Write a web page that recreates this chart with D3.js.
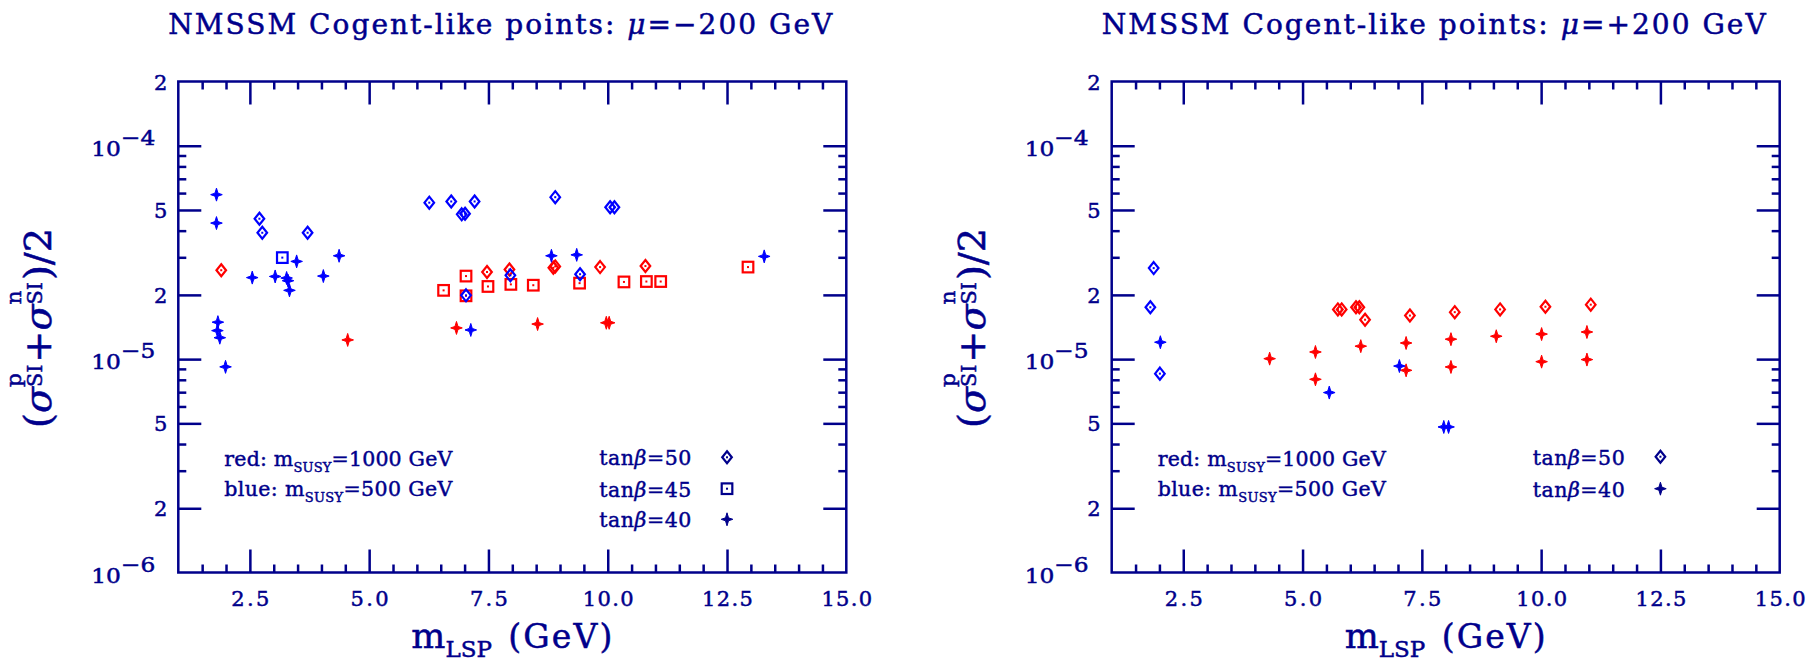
<!DOCTYPE html>
<html>
<head>
<meta charset="utf-8">
<script src="https://cdn.jsdelivr.net/npm/d3@7"></script>
<style>
  body { margin: 0; background: #fff; }
  svg { display: block; }
  text { font-family: "DejaVu Serif", "Liberation Serif", serif; fill: #00008b; }
</style>
</head>
<body>
<svg id="chart" width="1817" height="660"></svg>
<script>
// mu = -200 GeV panel, [m_LSP (GeV), (sigma_p + sigma_n)/2]
var negRedDiamond = [[1.90, 2.61e-5], [7.47, 2.56e-5], [7.94, 2.63e-5], [8.86, 2.68e-5], [8.90, 2.72e-5],
    [9.84, 2.70e-5], [10.79, 2.73e-5]];
var negRedSquare = [[6.56, 2.10e-5], [7.03, 2.45e-5], [7.03, 1.98e-5], [7.49, 2.19e-5], [7.97, 2.24e-5],
    [8.44, 2.22e-5], [9.41, 2.27e-5], [10.34, 2.30e-5], [10.81, 2.31e-5], [11.11, 2.31e-5], [12.94, 2.70e-5]];
var negRedPlus = [[4.55, 1.23e-5], [6.83, 1.40e-5], [8.53, 1.46e-5], [9.97, 1.48e-5], [10.03, 1.48e-5]];
var negBlueDiamond = [[2.70, 4.55e-5], [2.76, 3.91e-5], [3.71, 3.91e-5], [6.26, 5.41e-5], [6.72, 5.48e-5],
    [7.21, 5.48e-5], [6.94, 4.77e-5], [7.01, 4.80e-5], [8.90, 5.74e-5], [10.05, 5.15e-5], [10.14, 5.15e-5],
    [7.96, 2.47e-5], [9.42, 2.50e-5], [7.03, 1.99e-5]];
var negBlueSquare = [[3.18, 2.99e-5]];
var negBluePlus = [[1.80, 5.90e-5], [1.80, 4.34e-5], [3.48, 2.87e-5], [4.37, 3.05e-5], [2.55, 2.41e-5],
    [3.03, 2.44e-5], [3.27, 2.40e-5], [3.30, 2.33e-5], [3.33, 2.10e-5], [4.04, 2.45e-5], [8.82, 3.05e-5],
    [9.35, 3.08e-5], [13.28, 3.03e-5], [7.13, 1.37e-5], [1.83, 1.49e-5], [1.82, 1.36e-5], [1.87, 1.26e-5],
    [1.99, 9.2e-6]];

// mu = +200 GeV panel
var posRedDiamond = [[5.74, 1.71e-5], [5.82, 1.71e-5], [6.12, 1.75e-5], [6.19, 1.75e-5], [6.31, 1.53e-5],
    [7.25, 1.60e-5], [8.19, 1.66e-5], [9.14, 1.71e-5], [10.09, 1.76e-5], [11.04, 1.80e-5]];
var posRedPlus = [[4.31, 1.005e-5], [5.27, 1.08e-5], [5.27, 8.04e-6], [6.22, 1.15e-5], [7.17, 1.19e-5],
    [7.17, 8.86e-6], [8.11, 1.24e-5], [8.11, 9.19e-6], [9.06, 1.28e-5], [10.01, 1.31e-5], [10.01, 9.73e-6],
    [10.96, 1.34e-5], [10.96, 9.95e-6]];
var posBlueDiamond = [[1.88, 2.67e-5], [1.81, 1.75e-5], [2.01, 8.55e-6]];
var posBluePlus = [[2.02, 1.20e-5], [7.03, 9.28e-6], [5.56, 6.97e-6], [7.96, 4.81e-6], [8.06, 4.81e-6]];

var xMajorTicks = [2.5, 5, 7.5, 10, 12.5, 15];
var xMinorTicks = [1.5, 2, 3, 3.5, 4, 4.5, 5.5, 6, 6.5, 7, 8, 8.5, 9, 9.5, 10.5, 11, 11.5, 12, 13, 13.5, 14, 14.5];
var yMajorTicks = [2e-6, 5e-6, 1e-5, 2e-5, 5e-5, 1e-4];
var yMinorTicks = [3e-6, 4e-6, 6e-6, 7e-6, 8e-6, 9e-6, 3e-5, 4e-5, 6e-5, 7e-5, 8e-5, 9e-5];
var yLabelValues = [1e-6, 2e-6, 5e-6, 1e-5, 2e-5, 5e-5, 1e-4, 2e-4];
var yLabelTexts = ['10^−6', '2', '5', '10^−5', '2', '5', '10^−4', '2'];

var muValues = ['−200', '+200'];
var massLabels = ['red: m|SUSY|=1000 GeV', 'blue: m|SUSY|=500 GeV'];

var NAVY = '#00008b';
var RED = '#ff0000';
var BLUE = '#0000ff';
var FRAME_W = 668, FRAME_TOP = 81.5, FRAME_BOTTOM = 572.5;

var svg = d3.select('#chart');
svg.append('rect').attr('width', 1817).attr('height', 660).attr('fill', '#fff');

function drawMarker(g, shape, color, cx, cy) {
    var m = g.append('g').attr('transform', 'translate(' + cx + ',' + cy + ')');
    if (shape == 'diamond') {
        m.append('path').attr('d', 'M0,-6 L4.8,0 L0,6 L-4.8,0 Z')
            .attr('fill', 'none').attr('stroke', color).attr('stroke-width', 2.2);
        m.append('rect').attr('x', -1).attr('y', -1).attr('width', 2).attr('height', 2).attr('fill', color);
    } else if (shape == 'square') {
        m.append('rect').attr('x', -5.3).attr('y', -5.3).attr('width', 10.6).attr('height', 10.6)
            .attr('fill', 'none').attr('stroke', color).attr('stroke-width', 2.2);
        m.append('rect').attr('x', -1).attr('y', -1).attr('width', 2).attr('height', 2).attr('fill', color);
    } else {
        m.append('path').attr('d', 'M0,-6.5 L1.5,-1.5 L5.8,0 L1.5,1.5 L0,6.5 L-1.5,1.5 L-5.8,0 L-1.5,-1.5 Z')
            .attr('fill', color).attr('stroke', color).attr('stroke-width', 1);
    }
}

// y axis title: pieces laid out one after the other, super/subscripts stacked,
// then squeezed along the reading direction to the reference length
function stackedLabel(g, pieces, length) {
    var inner = g.append('g');
    var cursor = 0;
    function piece(txt, size, dy, italic) {
        var t = inner.append('text')
            .attr('x', cursor).attr('y', dy)
            .attr('font-size', size)
            .attr('font-style', italic ? 'italic' : null)
            .attr('stroke', NAVY).attr('stroke-width', 0.5)
            .text(txt);
        return t.node().getComputedTextLength();
    }
    pieces.forEach(function(p) {
        if (p.sup) {
            var a = piece(p.sup, 21, -30);
            var b = piece(p.sub, 20, -9);
            cursor += Math.max(a, b) + 2;
        } else {
            cursor += piece(p.t, 37, 0, p.italic);
        }
    });
    var k = length / cursor;
    inner.attr('transform', 'scale(' + k + ',1) translate(' + (-cursor / 2) + ',0)');
}

function drawPanel(left, mu, series, legendRows) {
    var x = d3.scaleLinear().domain([1, 15]).range([left, left + FRAME_W]);
    var y = d3.scaleLog().domain([1e-6, 2e-4]).range([FRAME_BOTTOM, FRAME_TOP]);
    var g = svg.append('g');

    // tick marks, all pointing inwards
    function ticks(axis, tr) {
        var a = g.append('g').attr('transform', tr).attr('color', NAVY).call(axis);
        a.select('.domain').remove();
        a.selectAll('.tick line').attr('stroke-width', 2.5);
        return a;
    }
    var bottom = ticks(d3.axisBottom(x).tickValues(xMajorTicks).tickSize(-23).tickPadding(19)
        .tickFormat(d3.format('.1f')), 'translate(0,' + FRAME_BOTTOM + ')');
    bottom.selectAll('.tick text')
        .attr('font-family', null).attr('font-size', 21)
        .attr('textLength', function(d) { return d3.format('.1f')(d).length * 12.7; })
        .attr('lengthAdjust', 'spacing')
        .attr('fill', NAVY).attr('stroke', NAVY).attr('stroke-width', 0.5);
    bottom.selectAll('.tick').filter(function(d) { return d == 15; }).select('line').remove();
    ticks(d3.axisBottom(x).tickValues(xMinorTicks).tickSize(-8).tickFormat(''), 'translate(0,' + FRAME_BOTTOM + ')');
    ticks(d3.axisTop(x).tickValues(xMajorTicks.slice(0, 5)).tickSize(-23).tickFormat(''), 'translate(0,' + FRAME_TOP + ')');
    ticks(d3.axisTop(x).tickValues(xMinorTicks).tickSize(-8).tickFormat(''), 'translate(0,' + FRAME_TOP + ')');
    ticks(d3.axisLeft(y).tickValues(yMajorTicks).tickSize(-23).tickFormat(''), 'translate(' + left + ',0)');
    ticks(d3.axisLeft(y).tickValues(yMinorTicks).tickSize(-8).tickFormat(''), 'translate(' + left + ',0)');
    ticks(d3.axisRight(y).tickValues(yMajorTicks).tickSize(-23).tickFormat(''), 'translate(' + (left + FRAME_W) + ',0)');
    ticks(d3.axisRight(y).tickValues(yMinorTicks).tickSize(-8).tickFormat(''), 'translate(' + (left + FRAME_W) + ',0)');

    g.append('rect')
        .attr('x', left).attr('y', FRAME_TOP)
        .attr('width', FRAME_W).attr('height', FRAME_BOTTOM - FRAME_TOP)
        .attr('fill', 'none').attr('stroke', NAVY).attr('stroke-width', 2.5);

    // y tick labels
    yLabelValues.forEach(function(v, i) {
        var parts = yLabelTexts[i].split('^');
        var t = g.append('text')
            .attr('text-anchor', 'end')
            .attr('font-size', 21)
            .attr('stroke', NAVY).attr('stroke-width', 0.5);
        if (parts.length == 2) {
            t.attr('x', left - 23).attr('y', y(v) + 10)
                .attr('textLength', 64).attr('lengthAdjust', 'spacingAndGlyphs');
            t.append('tspan').text(parts[0]);
            t.append('tspan').attr('dy', -11).text(parts[1]);
        } else {
            t.attr('x', left - 11).attr('y', y(v) + 8).text(parts[0]);
        }
    });

    // title
    var title = g.append('text')
        .attr('x', left - 10).attr('y', 34)
        .attr('font-size', 28)
        .attr('textLength', 664).attr('lengthAdjust', 'spacing')
        .attr('stroke', NAVY).attr('stroke-width', 0.5);
    title.append('tspan').text('NMSSM Cogent-like points: ');
    title.append('tspan').attr('font-style', 'italic').text('μ');
    title.append('tspan').text('=' + mu + ' GeV');

    // x axis title
    var xt = g.append('text').attr('y', 648).attr('font-size', 33)
        .attr('stroke', NAVY).attr('stroke-width', 0.5);
    xt.append('tspan').attr('x', left + 233).attr('font-size', 36).text('m');
    xt.append('tspan').attr('font-size', 23).attr('dy', 9).text('LSP');
    xt.append('tspan').attr('x', left + 330).attr('dy', -9).attr('textLength', 104).text('(GeV)');

    // y axis title
    var yg = g.append('g').attr('transform', 'translate(' + (left - 127) + ',328) rotate(-90)');
    stackedLabel(yg, [
        { t: '(' }, { t: 'σ', italic: true }, { sup: 'p', sub: 'SI' },
        { t: '+' }, { t: 'σ', italic: true }, { sup: 'n', sub: 'SI' },
        { t: ')/2' }
    ], 200);

    // colour legend
    massLabels.forEach(function(s, i) {
        var parts = s.split('|');
        var t = g.append('text')
            .attr('x', left + 46).attr('y', 466 + i * 30)
            .attr('font-size', 20.5)
            .attr('textLength', 228).attr('lengthAdjust', 'spacing')
            .attr('stroke', NAVY).attr('stroke-width', 0.45);
        t.append('tspan').text(parts[0]);
        t.append('tspan').attr('font-size', 13).attr('dy', 6).text(parts[1]);
        t.append('tspan').attr('dy', -6).text(parts[2]);
    });

    // symbol legend
    legendRows.forEach(function(r) {
        var t = g.append('text')
            .attr('x', left + 421).attr('y', r.y + 8)
            .attr('font-size', 20.5)
            .attr('textLength', 92).attr('lengthAdjust', 'spacing')
            .attr('stroke', NAVY).attr('stroke-width', 0.45);
        t.append('tspan').text('tan');
        t.append('tspan').attr('font-style', 'italic').text('β');
        t.append('tspan').text('=' + r.tanb);
        drawMarker(g, r.shape, NAVY, x(12.5), r.y);
    });

    // points: red first, blue on top
    series.forEach(function(s) {
        s.data.forEach(function(d) {
            drawMarker(g, s.shape, s.color, x(d[0]), y(d[1]));
        });
    });
}

drawPanel(178.3, muValues[0], [
    { data: negRedSquare, shape: 'square', color: RED },
    { data: negRedDiamond, shape: 'diamond', color: RED },
    { data: negRedPlus, shape: 'plus', color: RED },
    { data: negBlueSquare, shape: 'square', color: BLUE },
    { data: negBlueDiamond, shape: 'diamond', color: BLUE },
    { data: negBluePlus, shape: 'plus', color: BLUE }
], [
    { tanb: '50', shape: 'diamond', y: 457.3 },
    { tanb: '45', shape: 'square', y: 488.7 },
    { tanb: '40', shape: 'plus', y: 519.3 }
]);

drawPanel(1111.7, muValues[1], [
    { data: posRedDiamond, shape: 'diamond', color: RED },
    { data: posRedPlus, shape: 'plus', color: RED },
    { data: posBlueDiamond, shape: 'diamond', color: BLUE },
    { data: posBluePlus, shape: 'plus', color: BLUE }
], [
    { tanb: '50', shape: 'diamond', y: 456.7 },
    { tanb: '40', shape: 'plus', y: 488.7 }
]);
</script>
</body>
</html>
